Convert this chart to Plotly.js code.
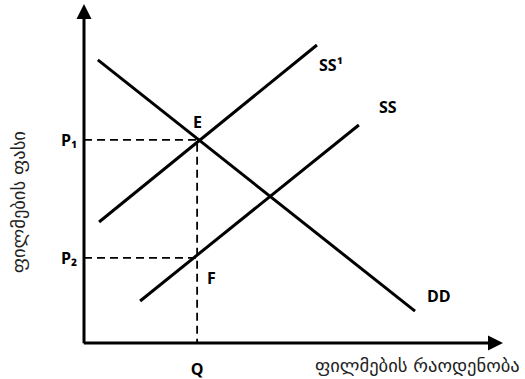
<!DOCTYPE html>
<html>
<head>
<meta charset="utf-8">
<script src="https://cdn.plot.ly/plotly-3.0.1.min.js"></script>
<style>html,body{margin:0;padding:0;background:#fff;}#chart{width:525px;height:379px;}</style>
</head>
<body>
<div id="chart"></div>
<script>
// Demand curve DD (quantity, price)
const ddQty = [0.33, 7.9];
const ddPrice = [8.35, 0.94];
// Supply curve SS1 (shifted)
const ss1Qty = [0.36, 5.56];
const ss1Price = [3.57, 8.79];
// Supply curve SS
const ssQty = [1.34, 6.56];
const ssPrice = [1.24, 6.43];
// Equilibrium quantity and prices
const qValue = 2.70;
const p1Value = 5.99;
const p2Value = 2.51;
// Tick labels
const xTickLabels = ['Q'];
const yTickLabels = ['P₁', 'P₂'];
// Curve labels
const curveLabels = ['DD', 'SS', 'SS¹'];
const pointLabels = ['E', 'F'];
const xTitle = 'ფილმების რაოდენობა';
const yTitle = 'ფილმების ფასი';
const axisMax = 10;

const black = '#000';
const lblFont = {family: '"Open Sans", "DejaVu Sans", sans-serif', size: 16, color: black, weight: 'bold'};
const geoFont = {family: '"DejaVu Sans", sans-serif', size: 18.5, color: '#222'};

const traces = [
  {x: ddQty, y: ddPrice, mode: 'lines', line: {color: black, width: 3}, hoverinfo: 'skip'},
  {x: ss1Qty, y: ss1Price, mode: 'lines', line: {color: black, width: 3}, hoverinfo: 'skip'},
  {x: ssQty, y: ssPrice, mode: 'lines', line: {color: black, width: 3}, hoverinfo: 'skip'},
  {x: [0, qValue, qValue], y: [p1Value, p1Value, 0], mode: 'lines',
   line: {color: black, width: 1.8, dash: '8px,5px'}, hoverinfo: 'skip'},
  {x: [0, qValue], y: [p2Value, p2Value], mode: 'lines',
   line: {color: black, width: 1.8, dash: '8px,5px'}, hoverinfo: 'skip'}
];

const annotations = [
  // axes with arrowheads
  {x: 0, y: axisMax, ax: 0, ay: -0.05, xref: 'x', yref: 'y', axref: 'x', ayref: 'y',
   showarrow: true, arrowhead: 2, arrowsize: 1, arrowwidth: 3, arrowcolor: black, text: '', standoff: 0},
  {x: axisMax, y: 0, ax: -0.04, ay: 0, xref: 'x', yref: 'y', axref: 'x', ayref: 'y',
   showarrow: true, arrowhead: 2, arrowsize: 1, arrowwidth: 3, arrowcolor: black, text: '', standoff: 0},
  // curve labels
  {x: ddQty[1], y: ddPrice[1], xref: 'x', yref: 'y', text: curveLabels[0], showarrow: false,
   xanchor: 'left', yanchor: 'middle', xshift: 10, yshift: 15, font: lblFont},
  {x: ssQty[1], y: ssPrice[1], xref: 'x', yref: 'y', text: curveLabels[1], showarrow: false,
   xanchor: 'left', yanchor: 'middle', xshift: 18, yshift: 18, font: lblFont},
  {x: ss1Qty[1], y: ss1Price[1], xref: 'x', yref: 'y', text: curveLabels[2], showarrow: false,
   xanchor: 'left', yanchor: 'middle', xshift: 0, yshift: -20, font: lblFont},
  {x: qValue, y: p1Value, xref: 'x', yref: 'y', text: pointLabels[0], showarrow: false,
   xanchor: 'center', yanchor: 'middle', yshift: 18, font: lblFont},
  {x: qValue, y: p2Value, xref: 'x', yref: 'y', text: pointLabels[1], showarrow: false,
   xanchor: 'left', yanchor: 'middle', xshift: 8, yshift: -20, font: lblFont},
  // axis titles
  {x: 1, y: 0, xref: 'paper', yref: 'paper', text: xTitle, showarrow: false,
   xanchor: 'right', yanchor: 'middle', xshift: 19, yshift: -22, font: geoFont},
  {x: 0, y: 0.415, xref: 'paper', yref: 'paper', text: yTitle, showarrow: false, textangle: -90,
   xanchor: 'center', yanchor: 'middle', xshift: -66, font: geoFont}
];

const layout = {
  width: 525, height: 379,
  margin: {l: 84, r: 22, t: 4, b: 36},
  paper_bgcolor: '#fff', plot_bgcolor: '#fff',
  showlegend: false,
  xaxis: {range: [0, axisMax], showgrid: false, zeroline: false, showline: false,
          tickvals: [qValue], ticktext: xTickLabels, ticks: '', ticklabelstandoff: 15,
          tickfont: lblFont, fixedrange: true},
  yaxis: {range: [0, axisMax], showgrid: false, zeroline: false, showline: false,
          tickvals: [p1Value, p2Value], ticktext: yTickLabels, ticks: '', ticklabelstandoff: 6,
          tickfont: lblFont, fixedrange: true},
  annotations: annotations
};

Plotly.newPlot('chart', traces, layout, {displayModeBar: false, staticPlot: true});
</script>
</body>
</html>
